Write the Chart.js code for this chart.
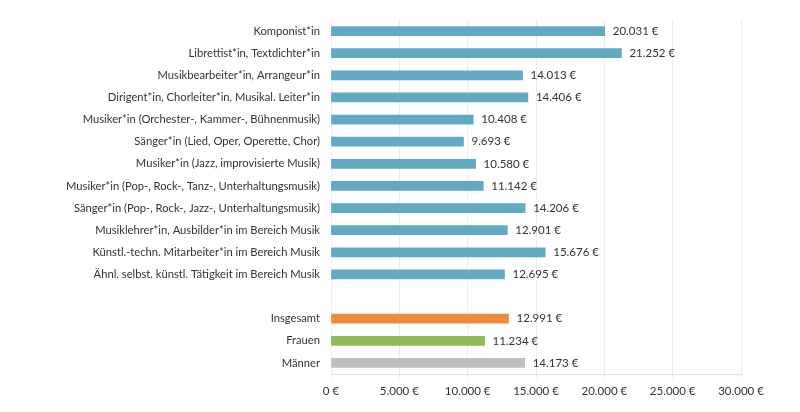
<!DOCTYPE html>
<html>
<head>
<meta charset="utf-8">
<script src="https://cdn.jsdelivr.net/npm/chart.js@4"></script>
<style>
  html, body { margin: 0; padding: 0; background: #fff; }
  #wrap { width: 800px; height: 412px; }
</style>
</head>
<body>
<div id="wrap"><canvas id="c" width="800" height="412"></canvas></div>
<script>
// ===== Daten =====
const categories = [
  'Komponist*in',
  'Librettist*in, Textdichter*in',
  'Musikbearbeiter*in, Arrangeur*in',
  'Dirigent*in, Chorleiter*in, Musikal. Leiter*in',
  'Musiker*in (Orchester-, Kammer-, Bühnenmusik)',
  'Sänger*in (Lied, Oper, Operette, Chor)',
  'Musiker*in (Jazz, improvisierte Musik)',
  'Musiker*in (Pop-, Rock-, Tanz-, Unterhaltungsmusik)',
  'Sänger*in (Pop-, Rock-, Jazz-, Unterhaltungsmusik)',
  'Musiklehrer*in, Ausbilder*in im Bereich Musik',
  'Künstl.-techn. Mitarbeiter*in im Bereich Musik',
  'Ähnl. selbst. künstl. Tätigkeit im Bereich Musik',
  '',
  'Insgesamt',
  'Frauen',
  'Männer'
];
const einkommen = [20031, 21252, 14013, 14406, 10408, 9693, 10580, 11142, 14206, 12901, 15676, 12695, null, 12991, 11234, 14173];
const barColors = [
  '#62a9c4', '#62a9c4', '#62a9c4', '#62a9c4', '#62a9c4', '#62a9c4',
  '#62a9c4', '#62a9c4', '#62a9c4', '#62a9c4', '#62a9c4', '#62a9c4',
  '#62a9c4', '#ee8b3e', '#8fba57', '#bfbfbf'
];
const xTicks = [0, 5000, 10000, 15000, 20000, 25000, 30000];

const FONT = 'Lato, "Open Sans", sans-serif';

function euro(v) {
  return String(v).replace(/\B(?=(\d{3})+(?!\d))/g, '.') + ' €';
}

// Werte rechts neben den Balken
const valueLabels = {
  id: 'valueLabels',
  afterDatasetsDraw(chart) {
    const ctx = chart.ctx;
    const meta = chart.getDatasetMeta(0);
    ctx.save();
    ctx.font = '11.5px ' + FONT;
    ctx.fillStyle = '#333';
    ctx.textBaseline = 'middle';
    meta.data.forEach((bar, i) => {
      const v = einkommen[i];
      if (v == null) return;
      ctx.fillText(euro(v), bar.x + 8, bar.y);
    });
    ctx.restore();
  }
};

new Chart(document.getElementById('c'), {
  type: 'bar',
  data: {
    labels: categories,
    datasets: [{
      data: einkommen,
      backgroundColor: barColors,
      barThickness: 9,
      borderWidth: 0
    }]
  },
  options: {
    indexAxis: 'y',
    responsive: false,
    animation: false,
    layout: { padding: { top: 20, right: 59, left: 0, bottom: 0 } },
    plugins: { legend: { display: false }, tooltip: { enabled: false } },
    scales: {
      x: {
        min: 0,
        max: 30000,
        afterBuildTicks(scale) { scale.ticks = xTicks.map(v => ({ value: v })); },
        afterFit(scale) { scale.height = 38; },
        grid: { color: '#ececec', tickLength: 4, drawTicks: true },
        border: { color: '#e0e0e0' },
        ticks: {
          color: '#333',
          font: { family: FONT, size: 11.5 },
          padding: 6,
          maxRotation: 0,
          callback: v => euro(v)
        }
      },
      y: {
        afterFit(scale) { scale.width = 331; },
        grid: { display: false, drawTicks: false },
        border: { color: '#eeeeee' },
        ticks: {
          color: '#333',
          font: { family: FONT, size: 11.2 },
          padding: 11,
          autoSkip: false
        }
      }
    }
  },
  plugins: [valueLabels]
});
</script>
</body>
</html>
